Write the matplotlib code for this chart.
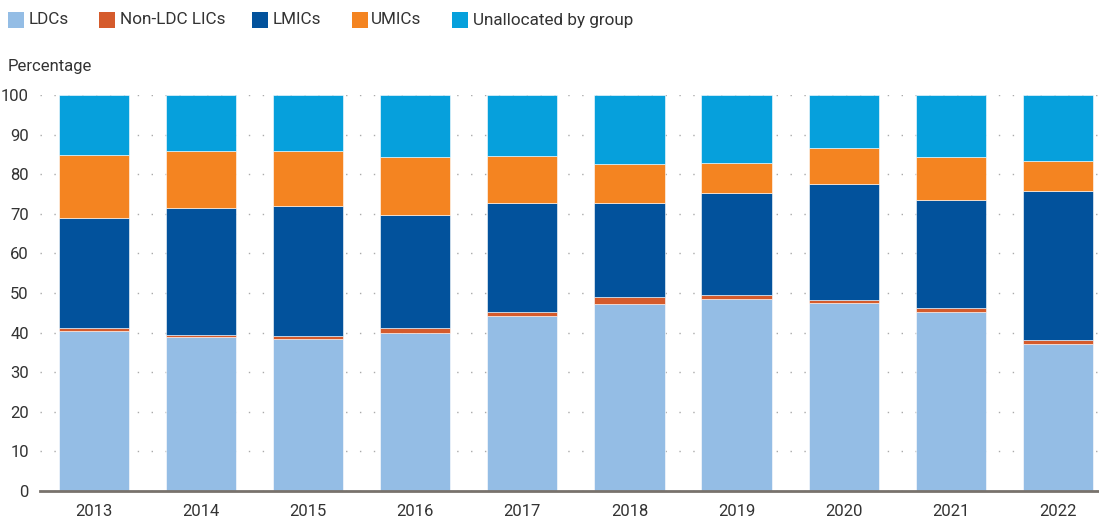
import matplotlib
matplotlib.use("Agg")
import matplotlib.pyplot as plt
from matplotlib.patches import Rectangle
import numpy as np

years = ["2013", "2014", "2015", "2016", "2017", "2018", "2019", "2020", "2021", "2022"]
ldcs = [40.4, 38.8, 38.4, 40.0, 44.1, 47.1, 48.5, 47.5, 45.1, 37.0]
non_ldc_lics = [0.8, 0.6, 0.7, 1.1, 1.0, 1.8, 1.0, 0.7, 1.1, 1.1]
lmics = [27.8, 32.0, 32.9, 28.6, 27.7, 23.9, 25.7, 29.2, 27.2, 37.7]
umics = [15.8, 14.5, 13.9, 14.6, 11.7, 9.8, 7.6, 9.2, 10.9, 7.5]
unallocated = [15.2, 14.1, 14.1, 15.7, 15.5, 17.4, 17.2, 13.4, 15.7, 16.7]

labels = ["LDCs", "Non-LDC LICs", "LMICs", "UMICs", "Unallocated by group"]
colors = ["#94BDE5", "#D55B2C", "#02529C", "#F48421", "#06A0DC"]
series = [ldcs, non_ldc_lics, lmics, umics, unallocated]

plt.rcParams['font.family'] = ['Roboto', 'DejaVu Sans']

W, H = 1099, 519
fig = plt.figure(figsize=(W / 100, H / 100), dpi=100)
ax = fig.add_axes([40 / W, 1 - 491 / H, 1 - 40 / W, 396 / H])

x = np.arange(len(years))
bottom = np.zeros(len(years))
for vals, c, lab in zip(series, colors, labels):
    ax.bar(x, vals, bottom=bottom, width=0.655, color=c, label=lab,
           edgecolor="white", linewidth=0.4, zorder=2)
    bottom += np.array(vals)

ax.set_xlim(-0.505, 9.385)
ax.set_ylim(0, 100)
ax.set_yticks(range(0, 101, 10))
ax.set_xticks(x)
ax.set_xticklabels(years)
ax.tick_params(axis='y', length=0, pad=8, labelsize=12, labelcolor="#333333")
ax.tick_params(axis='x', length=0, pad=9, labelsize=12, labelcolor="#333333")
for s in ["top", "right", "left"]:
    ax.spines[s].set_visible(False)
ax.spines["bottom"].set_color("#78726c")
ax.spines["bottom"].set_linewidth(2)
ax.spines["bottom"].set_zorder(3)
ax.yaxis.grid(True, color="#aaaaaa", linestyle=(0, (1, 9)), linewidth=1, zorder=0)
ax.set_axisbelow(True)

fig.text(8 / W, 1 - 66 / H, "Percentage", fontsize=12, color="#333333", va="center", ha="left")

# Legend row
sq_x = [8, 99, 252, 352, 452]
txt_x = [29, 120, 273, 371, 473]
for sx, tx, c, lab in zip(sq_x, txt_x, colors, labels):
    fig.patches.append(Rectangle((sx / W, 1 - 28 / H), 16 / W, 16 / H,
                                 transform=fig.transFigure, facecolor=c,
                                 edgecolor="none"))
    fig.text(tx / W, 1 - 20 / H, lab, fontsize=12.3, color="#333333",
             va="center", ha="left")

fig.savefig("out.png", dpi=100)
